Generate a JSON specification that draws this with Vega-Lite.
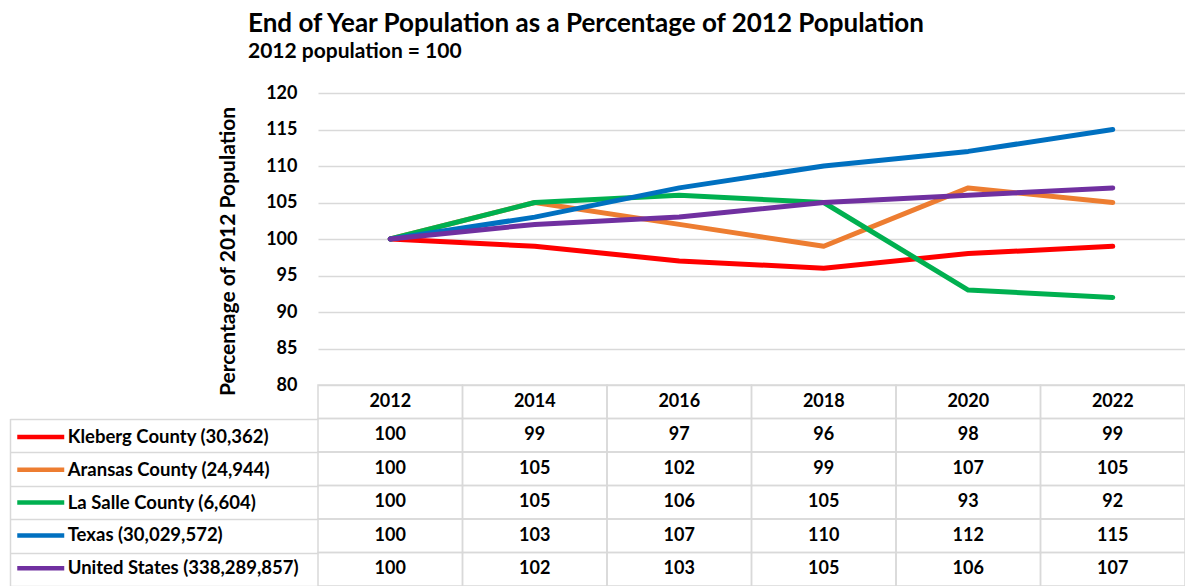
{
  "$schema": "https://vega.github.io/schema/vega-lite/v6.json",
  "autosize": {"type": "none"},
  "padding": {"left": 318, "top": 93, "right": 0, "bottom": 0},
  "width": 867,
  "height": 493,
  "background": "white",
  "config": {"font": "Lato", "view": {"stroke": null}},
  "title": {
    "text": "End of Year Population as a Percentage of 2012 Population",
    "subtitle": "2012 population = 100",
    "anchor": "start",
    "frame": "group",
    "dx": -70,
    "offset": 22,
    "fontSize": 26,
    "fontWeight": "bold",
    "color": "black",
    "subtitleFontSize": 21,
    "subtitleFontWeight": "bold",
    "subtitleColor": "black",
    "subtitlePadding": 4
  },
  "data": {
    "values": [
      {"series": "Kleberg County (30,362)", "year": 2012, "value": 100},
      {"series": "Kleberg County (30,362)", "year": 2014, "value": 99},
      {"series": "Kleberg County (30,362)", "year": 2016, "value": 97},
      {"series": "Kleberg County (30,362)", "year": 2018, "value": 96},
      {"series": "Kleberg County (30,362)", "year": 2020, "value": 98},
      {"series": "Kleberg County (30,362)", "year": 2022, "value": 99},
      {"series": "Aransas County (24,944)", "year": 2012, "value": 100},
      {"series": "Aransas County (24,944)", "year": 2014, "value": 105},
      {"series": "Aransas County (24,944)", "year": 2016, "value": 102},
      {"series": "Aransas County (24,944)", "year": 2018, "value": 99},
      {"series": "Aransas County (24,944)", "year": 2020, "value": 107},
      {"series": "Aransas County (24,944)", "year": 2022, "value": 105},
      {"series": "La Salle County (6,604)", "year": 2012, "value": 100},
      {"series": "La Salle County (6,604)", "year": 2014, "value": 105},
      {"series": "La Salle County (6,604)", "year": 2016, "value": 106},
      {"series": "La Salle County (6,604)", "year": 2018, "value": 105},
      {"series": "La Salle County (6,604)", "year": 2020, "value": 93},
      {"series": "La Salle County (6,604)", "year": 2022, "value": 92},
      {"series": "Texas (30,029,572)", "year": 2012, "value": 100},
      {"series": "Texas (30,029,572)", "year": 2014, "value": 103},
      {"series": "Texas (30,029,572)", "year": 2016, "value": 107},
      {"series": "Texas (30,029,572)", "year": 2018, "value": 110},
      {"series": "Texas (30,029,572)", "year": 2020, "value": 112},
      {"series": "Texas (30,029,572)", "year": 2022, "value": 115},
      {"series": "United States (338,289,857)", "year": 2012, "value": 100},
      {"series": "United States (338,289,857)", "year": 2014, "value": 102},
      {"series": "United States (338,289,857)", "year": 2016, "value": 103},
      {"series": "United States (338,289,857)", "year": 2018, "value": 105},
      {"series": "United States (338,289,857)", "year": 2020, "value": 106},
      {"series": "United States (338,289,857)", "year": 2022, "value": 107}
    ]
  },
  "encoding": {
    "x": {
      "field": "year",
      "type": "ordinal",
      "scale": {"type": "band", "paddingInner": 0, "paddingOuter": 0},
      "axis": null
    }
  },
  "layer": [
    {
      "mark": {"type": "line", "strokeWidth": 5, "strokeJoin": "round", "strokeCap": "round"},
      "encoding": {
        "y": {
          "field": "value",
          "type": "quantitative",
          "scale": {"domain": [80, 120], "range": [292, 0], "nice": false, "zero": false},
          "axis": {
            "orient": "left",
            "values": [80, 85, 90, 95, 100, 105, 110, 115, 120],
            "grid": true,
            "gridColor": "#d9d9d9",
            "gridWidth": 1.5,
            "domain": false,
            "ticks": false,
            "tickSize": 0,
            "labelPadding": 21,
            "labelFontSize": 18,
            "labelFontWeight": "bold",
            "labelColor": "black",
            "title": "Percentage of 2012 Population",
            "titleFontSize": 21,
            "titleFontWeight": "bold",
            "titleColor": "black",
            "titlePadding": 27,
            "titleY": 158
          }
        },
        "color": {
          "field": "series",
          "type": "nominal",
          "scale": {
            "domain": ["Kleberg County (30,362)", "Aransas County (24,944)", "La Salle County (6,604)", "Texas (30,029,572)", "United States (338,289,857)"],
            "range": ["#FF0000", "#ED7D31", "#00B050", "#0070C0", "#7030A0"]
          },
          "legend": {
            "orient": "none",
            "legendX": -291.25,
            "legendY": 330,
            "title": null,
            "direction": "vertical",
            "symbolType": "M-2,0H2",
            "symbolSize": 552,
            "symbolStrokeWidth": 4.5,
            "labelFontSize": 18.5,
            "labelFontWeight": "bold",
            "labelColor": "black",
            "labelLimit": 400,
            "labelOffset": 13,
            "rowPadding": 8.8,
            "padding": 0
          }
        }
      }
    },
    {
      "encoding": {
        "y": {
          "field": "series",
          "type": "nominal",
          "sort": ["Kleberg County (30,362)", "Aransas County (24,944)", "La Salle County (6,604)", "Texas (30,029,572)", "United States (338,289,857)"],
          "scale": {"type": "band", "range": [325.5, 493], "paddingInner": 0, "paddingOuter": 0},
          "axis": {
            "orient": "left",
            "offset": 308,
            "domain": true,
            "domainColor": "#d9d9d9",
            "domainWidth": 1.5,
            "ticks": true,
            "tickBand": "extent",
            "tickSize": -308,
            "tickColor": "#d9d9d9",
            "tickWidth": 1.5,
            "labels": false,
            "grid": false,
            "title": null
          }
        }
      },
      "layer": [
        {
          "mark": {"type": "rect", "filled": false, "stroke": "#d9d9d9", "strokeWidth": 1.5}
        },
        {
          "mark": {"type": "text", "fontSize": 18, "fontWeight": "bold", "color": "black", "align": "center", "baseline": "middle"},
          "encoding": {"text": {"field": "value", "type": "quantitative"}}
        }
      ]
    },
    {
      "transform": [{"filter": "datum.series === 'Kleberg County (30,362)'"}],
      "encoding": {
        "y": {
          "datum": "header",
          "type": "nominal",
          "scale": {"type": "band", "range": [292, 325.5], "paddingInner": 0, "paddingOuter": 0},
          "axis": null
        }
      },
      "layer": [
        {
          "mark": {"type": "rect", "filled": false, "stroke": "#d9d9d9", "strokeWidth": 1.5}
        },
        {
          "mark": {"type": "text", "fontSize": 18, "fontWeight": "bold", "color": "black", "align": "center", "baseline": "middle"},
          "encoding": {"text": {"field": "year", "type": "ordinal"}}
        }
      ]
    }
  ],
  "resolve": {"scale": {"y": "independent"}, "axis": {"y": "independent"}}
}
